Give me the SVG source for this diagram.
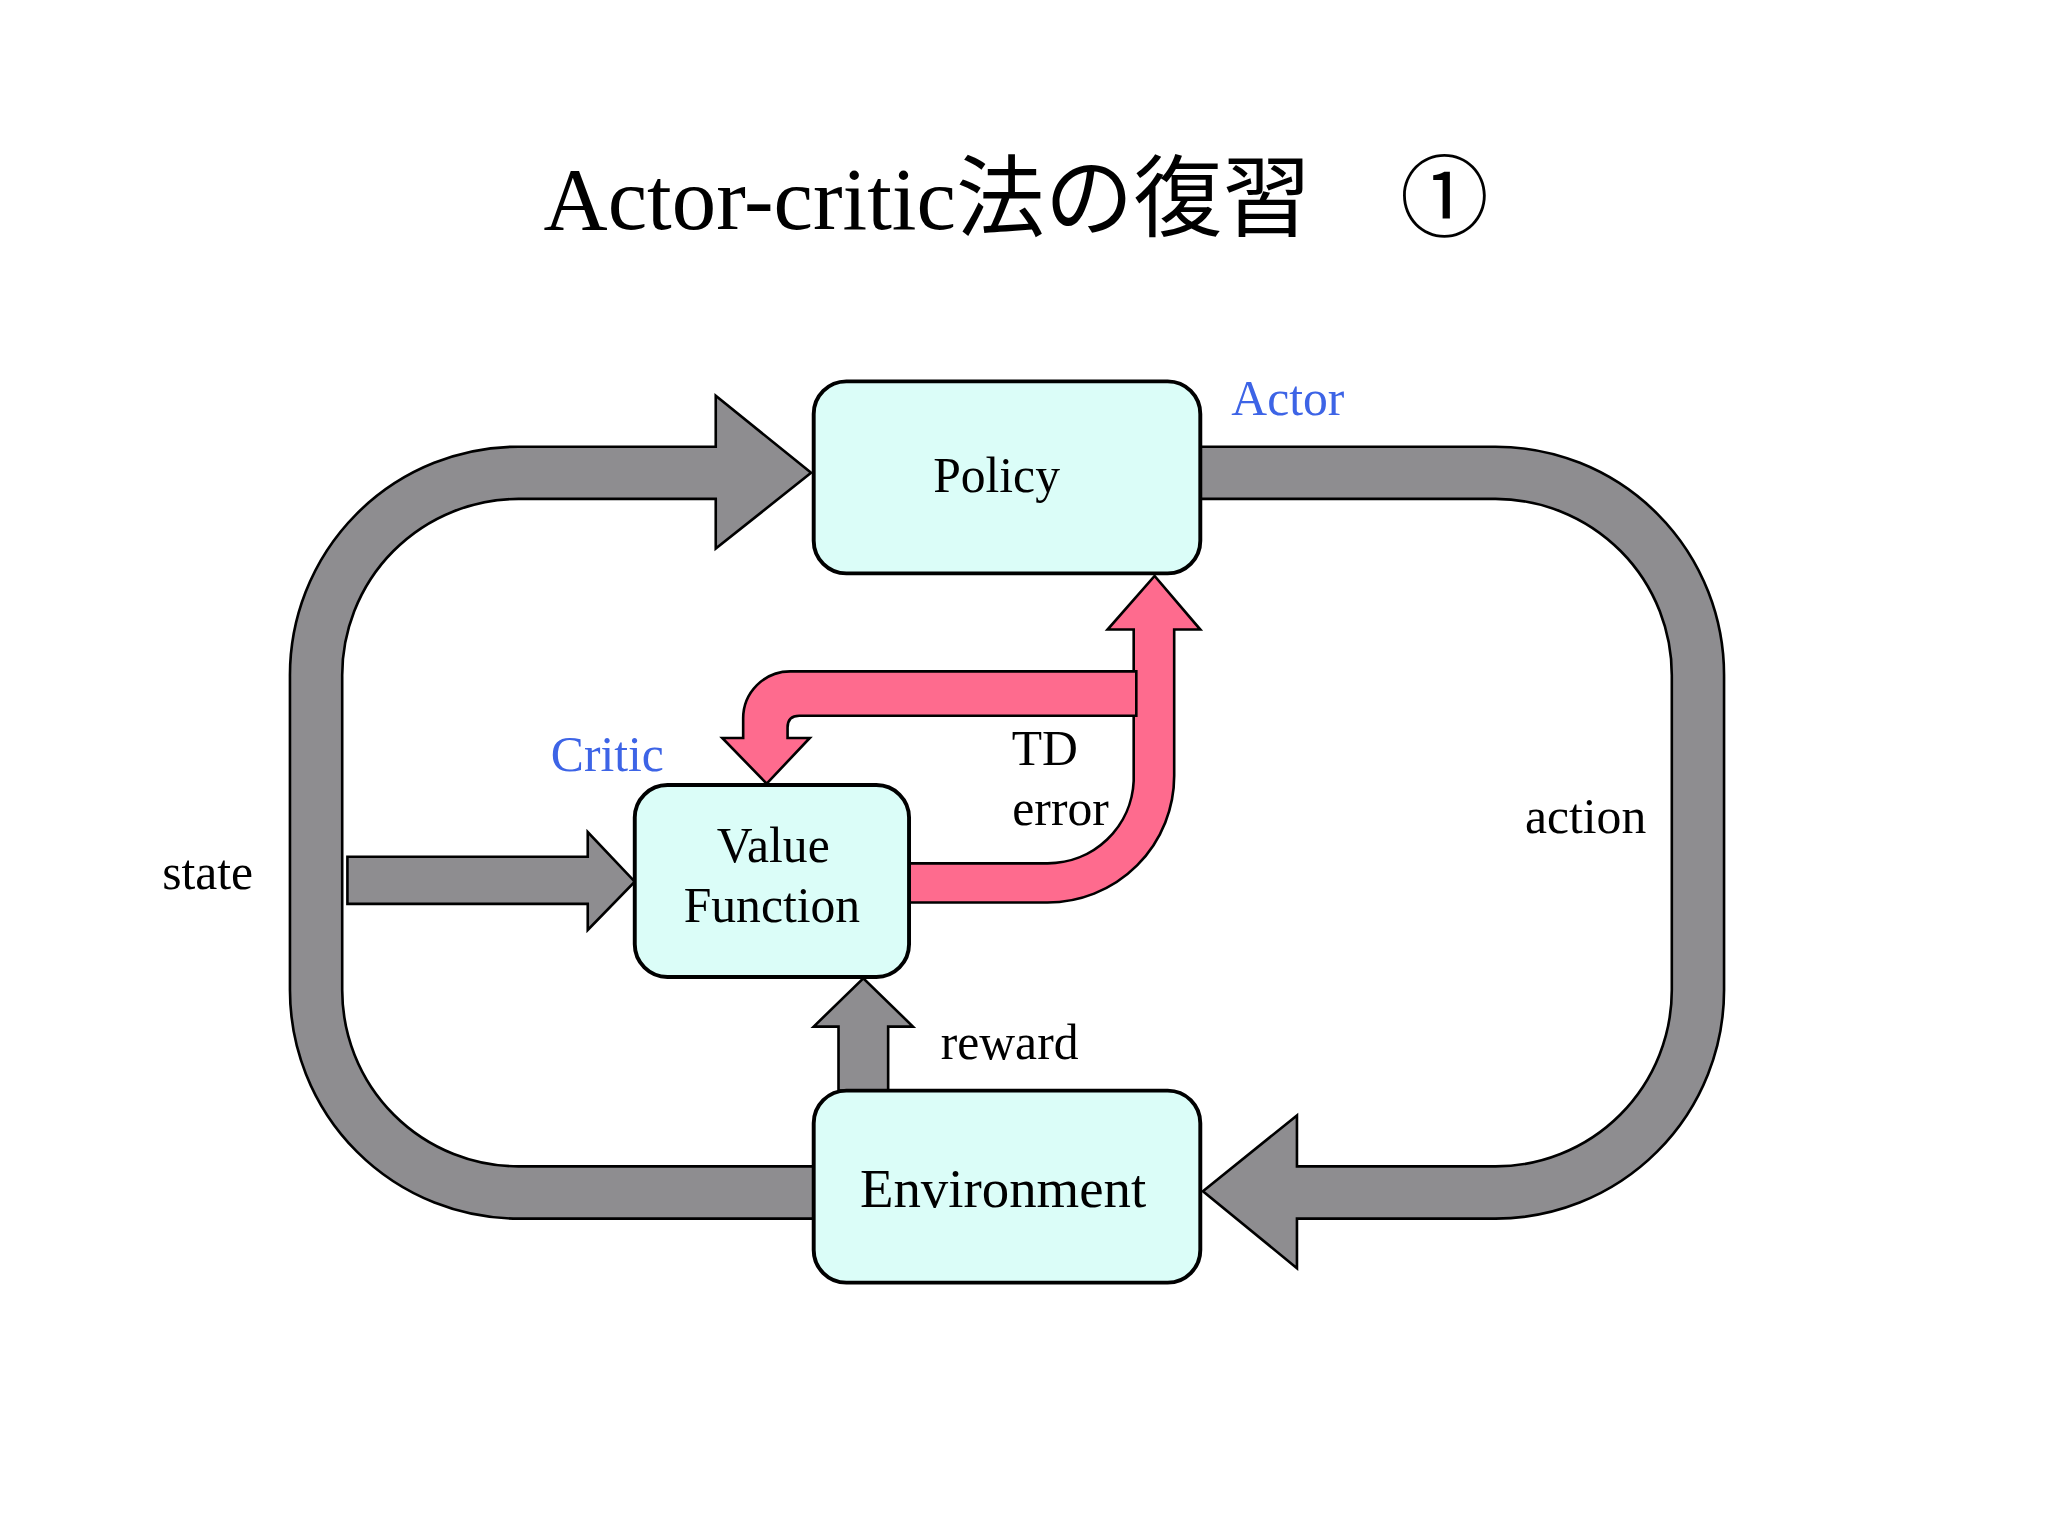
<svg xmlns="http://www.w3.org/2000/svg" width="2048" height="1536" viewBox="0 0 2048 1536">
<style>
text{font-family:"Liberation Serif","Noto Sans CJK JP",serif;text-anchor:middle;fill:#000}
.box{fill:#dbfdf8;stroke:#000;stroke-width:3}
.gray{fill:#8e8d90;stroke:#000;stroke-width:2}
.pink{fill:#fe6b8e;stroke:#000;stroke-width:2}
.lbl{font-size:38px}
.blue{fill:#3d64e6}
</style>
<rect width="2048" height="1536" fill="#fff"/>
<g transform="scale(1.3061)">
<text x="778" y="175" font-size="68">Actor-critic法の復習　①</text>
<g id="connectors">
<path class="gray" d="M623,933 L397,933 A175,175 0 0 1 222,758 L222,518 A175,175 0 0 1 397,342 L548,342 L548,303 L621,362 L548,420 L548,382 L397,382 A135,135 0 0 0 262,518 L262,758 A135,135 0 0 0 397,893 L623,893 Z"/>
<path class="gray" d="M919,342 L1145,342 A175,175 0 0 1 1320,518 L1320,758 A175,175 0 0 1 1145,933 L993,933 L993,971 L921,912 L993,854 L993,893 L1145,893 A135,135 0 0 0 1280,758 L1280,518 A135,135 0 0 0 1145,382 L919,382 Z"/>
<path class="gray" d="M266,656 L450,656 L450,637 L486,675 L450,712 L450,692 L266,692 Z"/>
<path class="gray" d="M642,835 L642,786 L623,786 L661,749 L699,786 L680,786 L680,835 Z"/>
<path class="pink" d="M696,691 L802,691 A97,97 0 0 0 899,594 L899,482 L919,482 L884,441 L848,482 L868,482 L868,598 A66,66 0 0 1 802,661 L696,661 Z"/>
<path class="pink" d="M870,514 L870,548 L612,548 Q603,548 603,557 L603,565 L620,565 L587,600 L553,565 L569,565 L569,550 A36,36 0 0 1 605,514 Z"/>
</g>
<g id="policy"><rect class="box" x="623" y="292" width="296" height="147" rx="25"/><text x="763" y="377" class="lbl">Policy</text></g>
<g id="value"><rect class="box" x="486" y="601" width="210" height="147" rx="25"/><text x="592" y="660" class="lbl">Value</text><text x="591" y="706" class="lbl">Function</text></g>
<g id="env"><rect class="box" x="623" y="835" width="296" height="147" rx="25"/><text x="768" y="924" font-size="42">Environment</text></g>
<text x="986" y="318" class="lbl blue">Actor</text>
<text x="465" y="590" class="lbl blue">Critic</text>
<text x="159" y="681" class="lbl">state</text>
<text x="1214" y="638" class="lbl">action</text>
<text x="773" y="811" class="lbl">reward</text>
<text x="800" y="586" class="lbl">TD</text>
<text x="812" y="632" class="lbl">error</text>
</g>
</svg>
